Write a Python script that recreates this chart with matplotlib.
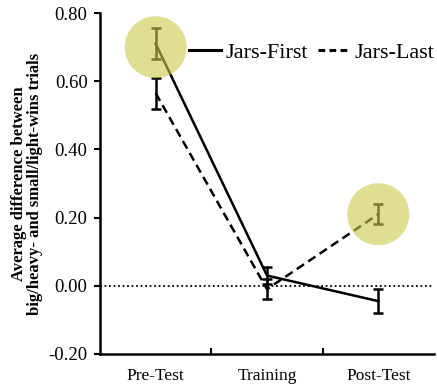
import numpy as np
import matplotlib
matplotlib.use("Agg")
import matplotlib.pyplot as plt
from matplotlib.patches import Ellipse
from matplotlib.lines import Line2D

# --- DATA ---
phases = ["Pre-Test", "Training", "Post-Test"]
jars_first = [0.71, 0.03, -0.045]
jars_first_err = [0.045, 0.025, 0.035]
jars_last = [0.565, -0.01, 0.21]
jars_last_err = [0.045, 0.03, 0.03]
yticks = [-0.20, 0.00, 0.20, 0.40, 0.60, 0.80]
highlights = [(0, 0.70), (2, 0.21)]  # (phase index, value) of yellow circles

plt.rcParams['font.family'] = ['Liberation Serif', 'DejaVu Serif']

fig = plt.figure(figsize=(4.37, 3.86), dpi=100)
ax = fig.add_axes([0.229, 0.083, 0.764, 0.883])

x = np.arange(len(phases)) + 0.5
dash = (0, (3.5, 2))

ax.axhline(0, color='black', lw=1.3, ls=(0, (1, 1.5)), zorder=1)

ax.errorbar(x, jars_first, yerr=jars_first_err, color='black', lw=1.8,
            elinewidth=1.8, capsize=3.5, capthick=1.8, ls='-', zorder=3)
ax.errorbar(x, jars_last, yerr=jars_last_err, color='black', lw=1.8,
            elinewidth=1.8, capsize=3.5, capthick=1.8, ls=dash, zorder=3)

# yellow highlight circles
for i, v in highlights:
    w = 62 / (0.764 * 437) * 3.0
    h = 62 / (0.883 * 386) * 1.0
    ax.add_patch(Ellipse((x[i], v), w, h, color=(0.80, 0.79, 0.28), alpha=0.6,
                         lw=0, zorder=4))

ax.set_xlim(0, 3)
ax.set_ylim(-0.2, 0.8)
ax.set_xticks(x)
ax.set_xticklabels(phases, fontsize=12.5)
ax.set_xticks([1, 2], minor=True)
ax.tick_params(axis='x', which='major', length=0, pad=10)
ax.tick_params(axis='x', which='minor', direction='in', length=4, width=1.5)
ax.set_yticks(yticks)
ax.set_yticklabels([f"{t:.2f}" for t in yticks], fontsize=13.5)
ax.tick_params(axis='y', direction='out', length=4, width=1.5, pad=5)

for s in ['top', 'right']:
    ax.spines[s].set_visible(False)
for s in ['left', 'bottom']:
    ax.spines[s].set_linewidth(1.8)

ax.set_ylabel("Average difference between\nbig/heavy- and small/light-wins trials",
              fontsize=12, fontweight='bold', labelpad=4, linespacing=1.0)

handles = [Line2D([], [], color='black', lw=2.2, ls='-'),
           Line2D([], [], color='black', lw=2.2, ls=(0, (2.2, 1.4)))]
ax.legend(handles, ['Jars-First', 'Jars-Last'], loc='upper right',
          bbox_to_anchor=(1.0, 0.915), ncol=2, frameon=False,
          fontsize=16, handlelength=1.45, handletextpad=0.18, columnspacing=0.45,
          borderaxespad=0.0, borderpad=0.0)

fig.savefig("out.png", dpi=100)
